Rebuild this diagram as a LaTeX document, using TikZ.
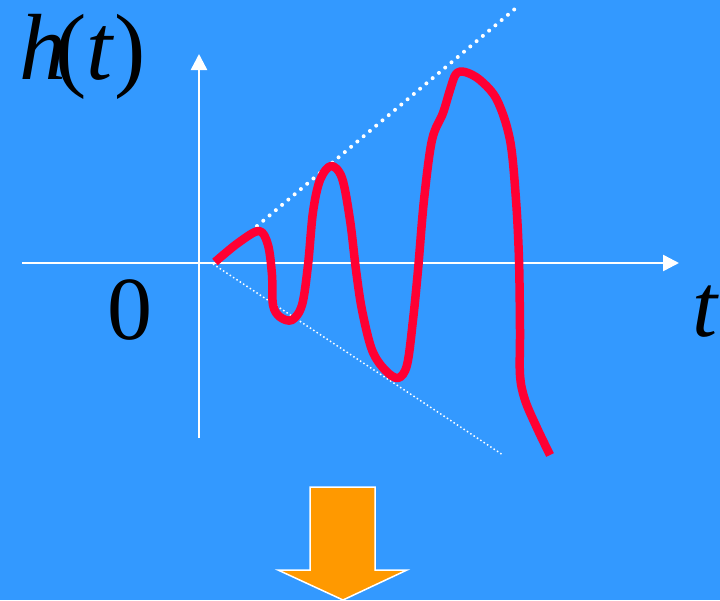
\documentclass[tikz,border=0pt]{standalone}
\usepackage{fontspec}
\setmainfont{Liberation Serif}
\usetikzlibrary{arrows.meta}
\definecolor{bgblue}{HTML}{3399FF}
\definecolor{curvered}{HTML}{FF0033}
\definecolor{arroworange}{HTML}{FF9900}
\tikzset{
  axis/.style={draw=white, line width=2.5pt, -{Triangle[length=16pt,width=16pt]}},
  bigdots/.style={draw=white, line width=4pt, line cap=round, dash pattern=on 0pt off 8.2pt},
  smalldots/.style={draw=white, line width=1.5pt, dash pattern=on 1.5pt off 2.5pt},
  signal/.style={draw=curvered, line width=8.5pt, line join=round, line cap=butt},
  biglabel/.style={inner sep=0pt, text=black, font=\fontsize{90}{90}\selectfont},
  hlabel/.style={inner sep=0pt, text=black, font=\fontsize{94}{94}\selectfont},
  blockarrow/.style={fill=arroworange, draw=white, line width=1.5pt, line join=miter}
}
\begin{document}
\begin{tikzpicture}[x=1pt,y=-1pt]
\fill[bgblue] (0,0) rectangle (720,600);
\useasboundingbox (0,0) rectangle (720,600);
% axes
\coordinate (xs) at (22,263);
\coordinate (xe) at (679,263);
\coordinate (ys) at (199,438);
\coordinate (ye) at (199,54);
\draw[axis] (xs) -- (xe);
\draw[axis] (ys) -- (ye);
% envelope lines
\coordinate (u1) at (257,226);
\coordinate (u2) at (516,8);
\coordinate (l1) at (213,264);
\coordinate (l2) at (503,455);
\draw[bigdots] (u1) -- (u2);
\draw[smalldots] (l1) -- (l2);
% signal
\draw[signal] plot[smooth, tension=0.55] coordinates {
(215,262) (238,243) (259,231) (268,245) (272,275) (273,305) (280,317) (292,320)
(302,305) (308,265) (313,212) (320,180) (331,166) (342,178) (350,220) (356,270)
(362,310) (372,350) (385,370) (398,378) (407,365) (413,320) (418,270) (424,200)
(432,140) (443,113) (450,90) (456,74) (465,72) (480,80) (497,100) (510,140)
(516,200) (519,260) (520,330) (520,375) (525,400) (537,428) (550,455)};
% labels
\node[hlabel, anchor=base west] (h) at (19,79) {\textit{h}\kern-11pt(\textit{t})};
\node[biglabel, anchor=base] (zero) at (130,339) {0};
\node[biglabel, anchor=base] (t) at (706,336) {\textit{t}};
% block arrow
\path[blockarrow] (310,487) -- (375,487) -- (375,570) -- (407,570) -- (343,600)
  -- (278,570) -- (310,570) -- cycle;
\end{tikzpicture}
\end{document}
